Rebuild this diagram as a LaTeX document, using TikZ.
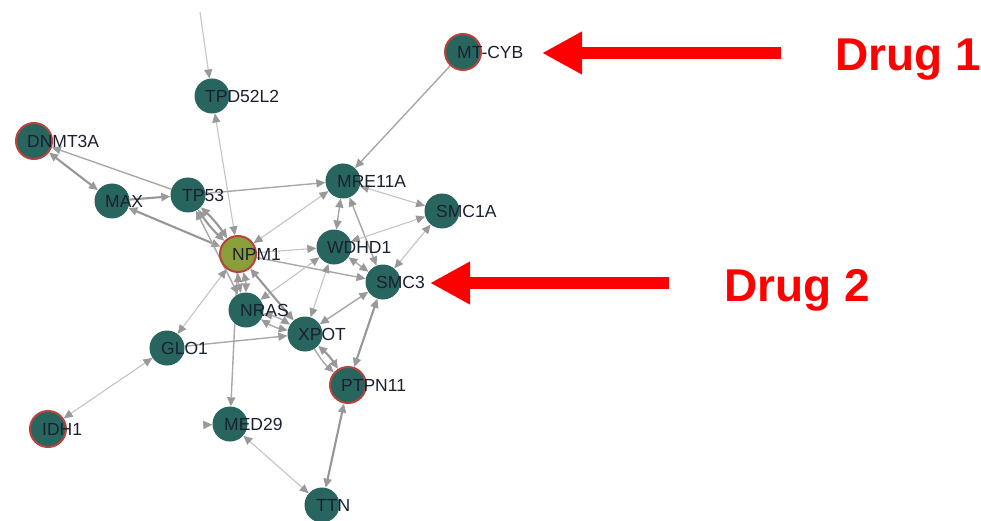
\documentclass[tikz,border=0pt]{standalone}
\usepackage{fontspec}
\setmainfont{Liberation Sans}
\usetikzlibrary{arrows.meta}
\pgfdeclarelayer{bg}
\pgfsetlayers{bg,main}
\definecolor{teal1}{HTML}{28655F}
\definecolor{olive1}{HTML}{8A9F3A}
\definecolor{ring}{HTML}{B8423C}
\definecolor{txt}{HTML}{1A2030}
\definecolor{eLight}{HTML}{C4C4C4}
\definecolor{eMid}{HTML}{A8A8A8}
\definecolor{eDark}{HTML}{979797}
\definecolor{eTip}{HTML}{999999}
\definecolor{drugred}{HTML}{FF0000}
\tikzset{
  gene/.style={circle,fill=teal1,minimum size=35pt,inner sep=0pt},
  drug/.style={gene,draw=ring,line width=2pt,minimum size=36pt},
  lab/.style={anchor=west,text=txt,font=\fontsize{17.5}{20}\selectfont,inner sep=0pt},
  tipA/.style={-{Triangle[length=9pt,width=8pt,color=eTip]}},
  tipB/.style={{Triangle[length=9pt,width=8pt,color=eTip]}-{Triangle[length=9pt,width=8pt,color=eTip]}},
  elight/.style={draw=eLight,line width=1.1pt},
  emid/.style={draw=eMid,line width=1.4pt},
  edark/.style={draw=eDark,line width=2.1pt},
  bigarrow/.style={draw=drugred,line width=12.6pt,-{Triangle[length=40pt,width=40pt]}},
  druglab/.style={anchor=base west,text=drugred,font=\fontsize{46}{50}\selectfont\bfseries,inner sep=0pt}
}
\begin{document}
\begin{tikzpicture}[x=1pt,y=-1pt]
\useasboundingbox (0,0) rectangle (981,521);
% nodes
\node[gene] (TPD52L2) at (212,96) {};
\node[drug] (MTCYB) at (463,52) {};
\node[drug] (DNMT3A) at (34,141) {};
\node[gene] (MAX) at (112,201) {};
\node[gene] (TP53) at (188,195) {};
\node[drug,fill=olive1] (NPM1) at (238,254) {};
\node[gene] (MRE11A) at (343,181) {};
\node[gene] (SMC1A) at (442,211) {};
\node[gene] (WDHD1) at (334,247) {};
\node[gene] (SMC3) at (383,282) {};
\node[gene] (NRAS) at (246,310) {};
\node[gene] (XPOT) at (305,334) {};
\node[gene] (GLO1) at (167,348) {};
\node[drug] (PTPN11) at (348,385) {};
\node[drug] (IDH1) at (48,429) {};
\node[gene] (MED29) at (230,424) {};
\node[gene] (TTN) at (322,505) {};
\coordinate (topin) at (200,12);
\coordinate (medin) at (203,425);
% labels
\node[lab] (lTPD52L2) at ([xshift=-7pt]TPD52L2.center) {TPD52L2};
\node[lab] (lMTCYB) at ([xshift=-6pt]MTCYB.center) {MT-CYB};
\node[lab] (lDNMT3A) at ([xshift=-7pt]DNMT3A.center) {DNMT3A};
\node[lab] (lMAX) at ([xshift=-7pt]MAX.center) {MAX};
\node[lab] (lTP53) at ([xshift=-6pt]TP53.center) {TP53};
\node[lab] (lNPM1) at ([xshift=-6pt]NPM1.center) {NPM1};
\node[lab] (lMRE11A) at ([xshift=-6pt]MRE11A.center) {MRE11A};
\node[lab] (lSMC1A) at ([xshift=-6pt]SMC1A.center) {SMC1A};
\node[lab] (lWDHD1) at ([xshift=-7pt]WDHD1.center) {WDHD1};
\node[lab] (lSMC3) at ([xshift=-7pt]SMC3.center) {SMC3};
\node[lab] (lNRAS) at ([xshift=-6pt]NRAS.center) {NRAS};
\node[lab] (lXPOT) at ([xshift=-7pt]XPOT.center) {XPOT};
\node[lab] (lGLO1) at ([xshift=-6pt]GLO1.center) {GLO1};
\node[lab] (lPTPN11) at ([xshift=-7pt]PTPN11.center) {PTPN11};
\node[lab] (lIDH1) at ([xshift=-6pt]IDH1.center) {IDH1};
\node[lab] (lMED29) at ([xshift=-6pt]MED29.center) {MED29};
\node[lab] (lTTN) at ([xshift=-6pt]TTN.center) {TTN};
% drug annotations
\node[druglab] (drug1) at (835,71) {Drug 1};
\node[druglab] (drug2) at (724,301) {Drug 2};
\coordinate (a1s) at (781,53);
\coordinate (a1e) at (542,53);
\coordinate (a2s) at (669,283);
\coordinate (a2e) at (430,283);
\draw[bigarrow] (a1s) -- (a1e);
\draw[bigarrow] (a2s) -- (a2e);
% edges
\begin{pgfonlayer}{bg}
\fill[white] (0,0) rectangle (981,521);
\draw[elight,tipA] (topin) -- (TPD52L2);
\draw[elight,tipB] (TPD52L2) -- (NPM1);
\draw[emid,tipA] (MTCYB) -- (MRE11A);
\draw[emid,tipA] (TP53) -- (DNMT3A);
\draw[emid,tipA] (TP53) -- (MRE11A);
\draw[elight,tipB] (NPM1) -- (MRE11A);
\draw[elight,tipA] (NPM1) -- (WDHD1);
\draw[emid,tipA] (NPM1) -- (SMC3);
\draw[emid,tipB] (MRE11A) -- (WDHD1);
\draw[emid,tipB] (MRE11A) -- (SMC3);
\draw[elight,tipB] (MRE11A) -- (SMC1A);
\draw[elight,tipB] (WDHD1) -- (SMC1A);
\draw[elight,tipB] (SMC1A) -- (SMC3);
\draw[emid,tipB] (WDHD1) -- (SMC3);
\draw[elight,tipB] (NRAS) -- (WDHD1);
\draw[elight,tipB] (WDHD1) -- (XPOT);
\draw[emid,tipB] (XPOT) -- (SMC3);
\draw[edark,tipB] (SMC3) -- (PTPN11);
\draw[edark,tipB] (NPM1) -- (XPOT);
\draw[emid,tipB] (NRAS) to[bend left=10] (XPOT);
\draw[emid,tipB] (NRAS) to[bend right=10] (XPOT);
\draw[emid,tipA] (GLO1) -- (XPOT);
\draw[elight,tipB] (NPM1) -- (GLO1);
\draw[elight,tipB] (IDH1) -- (GLO1);
\draw[emid,tipA] (NPM1) -- (MED29);
\draw[emid,tipA] (medin) -- (MED29);
\draw[elight,tipB] (MED29) -- (TTN);
\draw[edark,tipB] (PTPN11) -- (TTN);
\draw[emid,tipA] (XPOT) to[bend right=8] (PTPN11);
\draw[edark,tipB] (XPOT) to[bend left=8] (PTPN11);
\draw[edark,tipB] (DNMT3A) -- (MAX);
\draw[edark,tipA] (MAX) -- (TP53);
\draw[edark,tipB] (NPM1) -- (MAX);
\draw[edark,tipB] (TP53) to[bend left=6] (NPM1);
\draw[edark,tipB] (TP53) to[bend right=6] (NPM1);
\draw[emid,tipB] (TP53) -- (NRAS);
\draw[emid,tipB] (NPM1) to[bend left=8] (NRAS);
\draw[emid,tipB] (NPM1) to[bend right=8] (NRAS);
\end{pgfonlayer}
\end{tikzpicture}
\end{document}
